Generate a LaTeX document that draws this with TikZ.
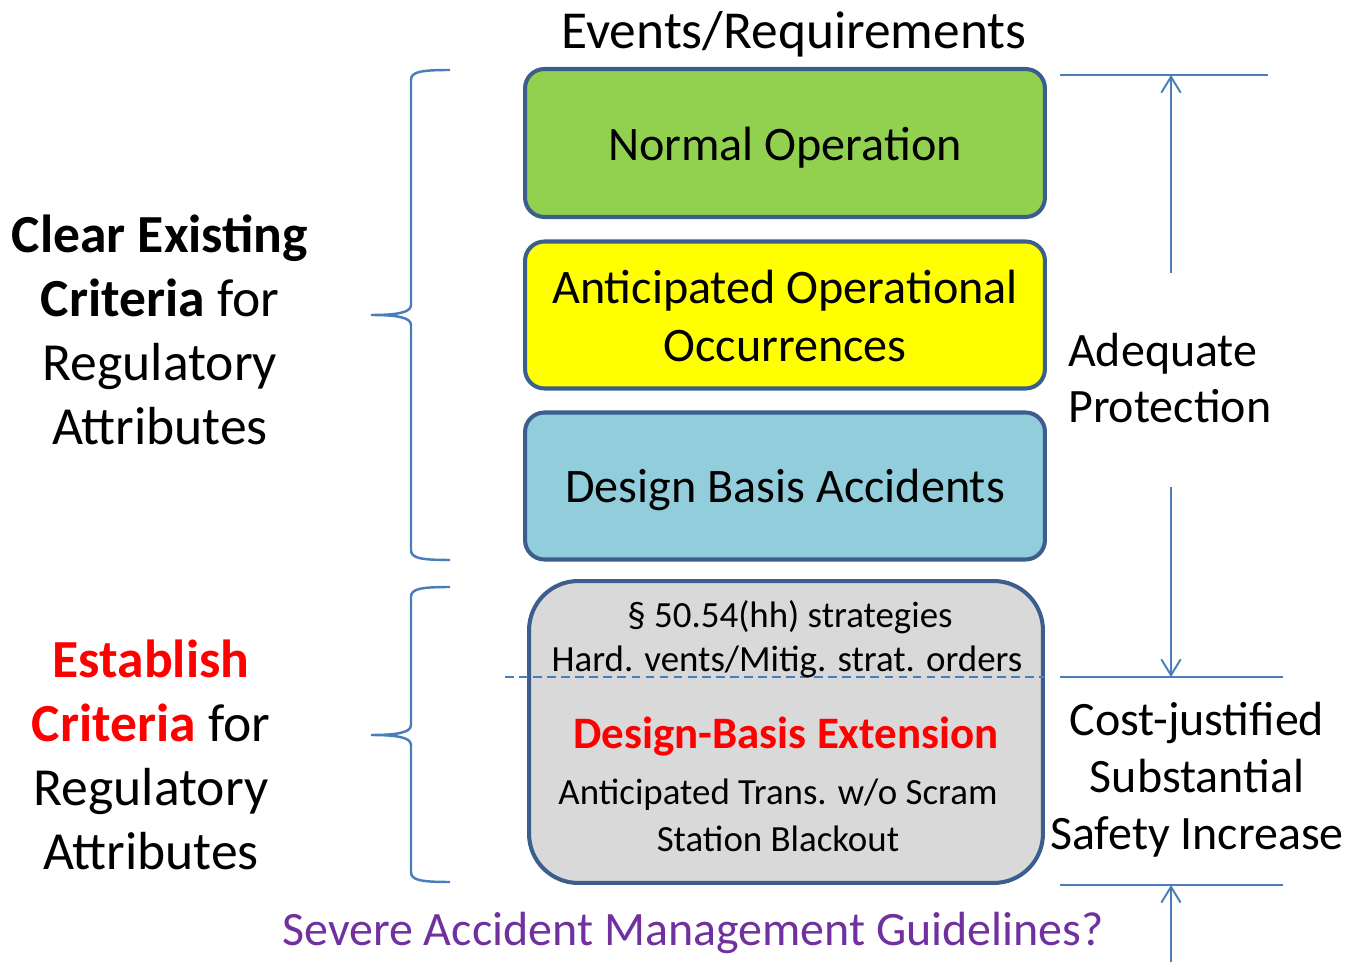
\documentclass[tikz,border=0pt]{standalone}
\usepackage{fontspec}
\setmainfont{Carlito}
\usetikzlibrary{arrows.meta}

\definecolor{boxline}{HTML}{3B5E8C}
\definecolor{bracecol}{HTML}{4A7EBB}
\definecolor{normalgreen}{HTML}{92D050}
\definecolor{aooyellow}{HTML}{FFFF00}
\definecolor{dbablue}{HTML}{92CDDC}
\definecolor{dbegray}{HTML}{D9D9D9}
\definecolor{estred}{HTML}{FF0000}
\definecolor{samgpurple}{HTML}{7030A0}

\begin{document}
\begin{tikzpicture}[x=0.02cm, y=-0.02cm,
	evbox/.style={draw=boxline, line width=2.3pt, rounded corners=11pt, minimum width=10.4cm, minimum height=2.94cm},
	evtxt/.style={align=center, font=\fontsize{27.4}{33}\selectfont},
	bigtxt/.style={align=center, font=\fontsize{30.5}{36.4}\selectfont},
	sidetxt/.style={font=\fontsize{27.3}{32.4}\selectfont},
	smalltxt/.style={font=\fontsize{21}{25}\selectfont},
	brace/.style={draw=bracecol, line width=1.4pt},
	markline/.style={draw=bracecol, line width=1.1pt},
	arr/.style={markline, -{Straight Barb[length=9pt, width=11pt, line width=1.1pt]}}]

	\useasboundingbox (0,0) rectangle (1350,962);

	% Event boxes
	\node (head) at (794,34) [font=\fontsize{30.4}{36}\selectfont] {Events/Requirements};
	\node[evbox, fill=normalgreen, minimum height=2.96cm] (normal) at (785,143) {};
	\node[evtxt, yshift=-2.8pt] (normaltxt) at (normal.center) {Normal Operation};
	\node[evbox, fill=aooyellow] (aoo) at (785,315) {};
	\node[evtxt, yshift=-0.6pt] (aootxt) at (aoo.center) {Anticipated Operational\\Occurrences};
	\node[evbox, fill=dbablue] (dba) at (785,486) {};
	\node[evtxt, yshift=-2.3pt] (dbatxt) at (dba.center) {Design Basis Accidents};

	% Extension box
	\node[draw=boxline, line width=2.3pt, rounded corners=28pt, fill=dbegray, minimum width=10.28cm, minimum height=6.04cm] (dbe) at (786,732) {};
	\draw[markline, dashed, dash pattern=on 5pt off 3pt] (505,677) -- (1045,677);
	\node[smalltxt] (hh) at (790,617) {\S\ 50.54(hh) strategies};
	\node[smalltxt] (vents) at (787,662) {Hard. vents/Mitig. strat. orders};
	\node[font=\fontsize{25.6}{30}\selectfont\bfseries, text=estred] (ext) at (786,737) {Design-Basis Extension};
	\node[smalltxt] (atws) at (778,795) {Anticipated Trans. w/o Scram};
	\node[smalltxt] (sbo) at (778,839) {Station Blackout};

	\node[sidetxt, text=samgpurple] (samg) at (693,933) {Severe Accident Management Guidelines?};

	% Left braces
	\draw[brace] (450,70) .. controls (420,70) and (411,72) .. (411,80) -- (411,305)
		.. controls (411,313) and (395,315) .. (371,315)
		.. controls (395,315) and (411,317) .. (411,325) -- (411,550)
		.. controls (411,558) and (420,560) .. (450,560);
	\draw[brace] (450,587) .. controls (420,587) and (411,589) .. (411,597) -- (411,725)
		.. controls (411,733) and (395,735) .. (371,735)
		.. controls (395,735) and (411,737) .. (411,745) -- (411,872)
		.. controls (411,880) and (420,882) .. (450,882);

	\node[bigtxt] (clear) at (160,330) {\textbf{Clear Existing}\\\textbf{Criteria} for\\Regulatory\\Attributes};
	\node[bigtxt] (establish) at (151,755) {\textcolor{estred}{\textbf{Establish}}\\\textcolor{estred}{\textbf{Criteria}} for\\Regulatory\\Attributes};

	% Right side marks
	\coordinate (topl) at (1060,75);
	\coordinate (topr) at (1268,75);
	\coordinate (midl) at (1060,677);
	\coordinate (midr) at (1283,677);
	\coordinate (botl) at (1060,885);
	\coordinate (botr) at (1283,885);
	\draw[markline] (topl) -- (topr);
	\draw[markline] (midl) -- (midr);
	\draw[markline] (botl) -- (botr);

	\coordinate (uptail) at (1171,273);
	\coordinate (uptip) at (1171,75);
	\coordinate (downtail) at (1171,487);
	\coordinate (downtip) at (1171,677);
	\coordinate (lowtail) at (1171,962);
	\coordinate (lowtip) at (1171,885);
	\draw[arr] (uptail) -- (uptip);
	\draw[arr] (downtail) -- (downtip);
	\draw[arr] (lowtail) -- (lowtip);

	\node[sidetxt, align=left, anchor=west] (adequate) at (1062,378) {Adequate\\Protection};
	\node[sidetxt, align=center] (cost) at (1197,780) {Cost-justified\\Substantial\\Safety Increase};

\end{tikzpicture}
\end{document}
